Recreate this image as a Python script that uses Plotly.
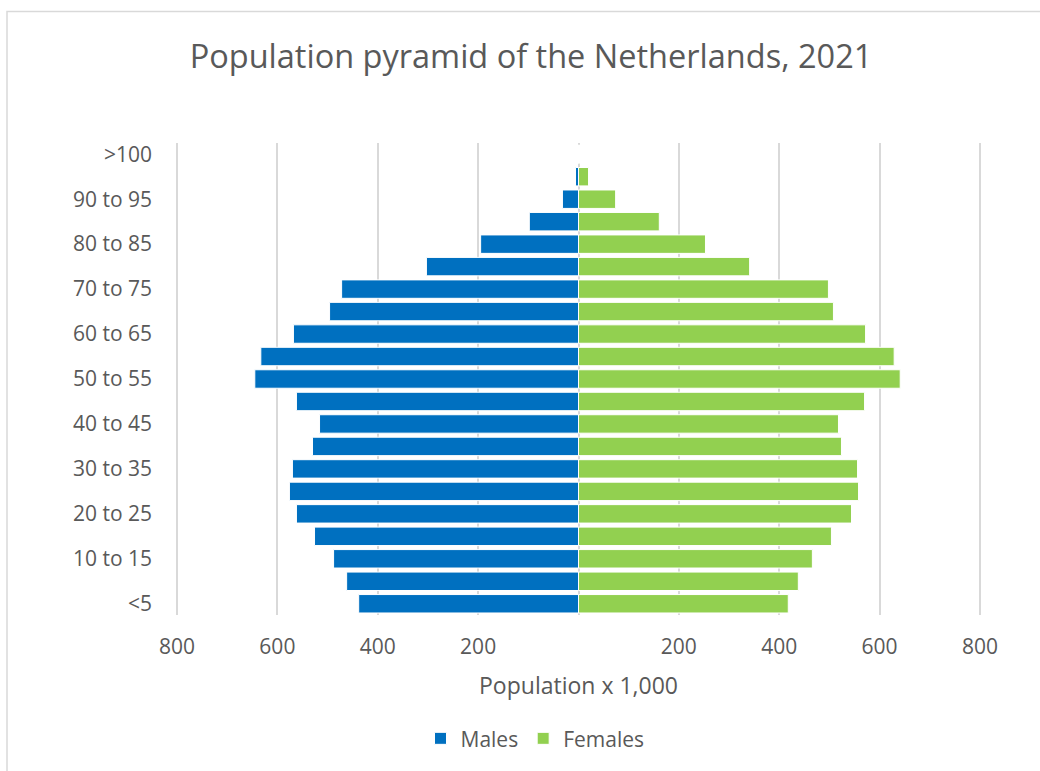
import plotly.graph_objects as go

age_groups = ["<5", "5 to 10", "10 to 15", "15 to 20", "20 to 25", "25 to 30", "30 to 35",
              "35 to 40", "40 to 45", "45 to 50", "50 to 55", "55 to 60", "60 to 65",
              "65 to 70", "70 to 75", "75 to 80", "80 to 85", "85 to 90", "90 to 95",
              "95 to 100", ">100"]
males = [438, 462, 488, 526, 562, 576, 570, 530, 516, 562, 645, 633, 568, 496, 472,
         303, 195, 98, 32, 6, 0.4]
females = [418, 438, 466, 504, 544, 558, 556, 524, 518, 570, 641, 629, 572, 508, 498,
           341, 253, 161, 74, 20, 2]
x_tickvals = [-800, -600, -400, -200, 0, 200, 400, 600, 800]
x_ticktext = ["800", "600", "400", "200", "", "200", "400", "600", "800"]
y_labels = age_groups[::2]

FONT = "Open Sans"
GREY = "#595959"

fig = go.Figure()
fig.add_trace(go.Bar(
    y=age_groups, x=[-v for v in males], orientation="h", name="Males",
    marker=dict(color="#0070C0", line=dict(color="white", width=1)),
    customdata=males, hovertemplate="%{y}: %{customdata}<extra>Males</extra>",
))
fig.add_trace(go.Bar(
    y=age_groups, x=females, orientation="h", name="Females",
    marker=dict(color="#92D050", line=dict(color="white", width=1)),
))

L, R, T, B = 175, 58, 143, 151
pw = 1040 - L - R
ph = 771 - T - B

fig.update_layout(
    width=1040, height=771,
    margin=dict(l=L, r=R, t=T, b=B),
    paper_bgcolor="white", plot_bgcolor="white",
    barmode="overlay", bargap=0.18,
    font=dict(family=FONT, color=GREY, size=21),
    title=dict(text="Population pyramid of the Netherlands, 2021",
               font=dict(family=FONT, size=32.5, color=GREY),
               x=531/1040, xanchor="center", xref="container",
               y=1-57/771, yanchor="middle", yref="container"),
    xaxis=dict(range=[-804, 804], tickvals=x_tickvals, ticktext=x_ticktext,
               showgrid=True, gridcolor="#d9d9d9", gridwidth=1.5,
               zeroline=True, zerolinecolor="#d9d9d9", zerolinewidth=1.5,
               showline=False, ticks="", ticklabelstandoff=17,
               tickfont=dict(size=21, color=GREY),
               title=dict(text="Population x 1,000", font=dict(size=23, color=GREY), standoff=18)),
    yaxis=dict(type="category", categoryorder="array", categoryarray=age_groups,
               tickvals=y_labels, ticktext=y_labels, showgrid=False,
               ticks="", ticklabelstandoff=22, tickfont=dict(size=21, color=GREY)),
    legend=dict(orientation="h", x=(535-L)/pw, xanchor="center",
                y=(771-B-745)/ph, yanchor="middle", font=dict(size=21, color=GREY),
                itemwidth=30, tracegroupgap=0),
    shapes=[dict(type="rect", xref="paper", yref="paper",
                 x0=(7-L)/pw, x1=(1045-L)/pw,
                 y0=(771-B-780)/ph, y1=(771-B-10)/ph,
                 line=dict(color="#d9d9d9", width=1.5), fillcolor="rgba(0,0,0,0)",
                 layer="below")],
    showlegend=True,
)

fig.write_html("out.html")
